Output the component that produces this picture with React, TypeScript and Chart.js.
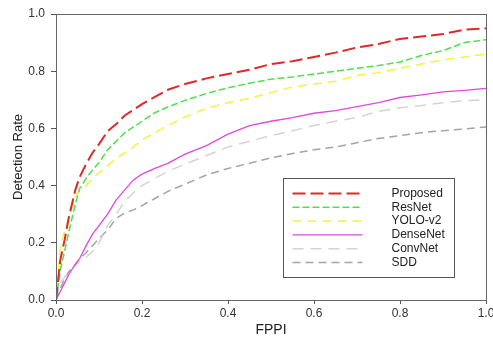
import React, { useEffect, useRef } from "react";
import { Chart, registerables } from "chart.js";

Chart.register(...registerables);

const fppi = [0, 0.01, 0.02, 0.03, 0.045, 0.055, 0.07, 0.085, 0.1, 0.12, 0.14, 0.16, 0.18, 0.2, 0.23, 0.26, 0.3, 0.35, 0.4, 0.45, 0.5, 0.55, 0.6, 0.65, 0.7, 0.75, 0.8, 0.85, 0.9, 0.95, 1.0];

const proposed = [0, 0.14, 0.21, 0.29, 0.385, 0.43, 0.475, 0.515, 0.545, 0.59, 0.615, 0.645, 0.665, 0.685, 0.71, 0.735, 0.755, 0.775, 0.79, 0.805, 0.825, 0.835, 0.85, 0.865, 0.883, 0.895, 0.913, 0.921, 0.93, 0.945, 0.95];
const resnet = [0, 0.105, 0.17, 0.24, 0.335, 0.39, 0.425, 0.455, 0.48, 0.525, 0.555, 0.585, 0.605, 0.625, 0.655, 0.675, 0.698, 0.722, 0.742, 0.758, 0.772, 0.78, 0.79, 0.8, 0.81, 0.82, 0.832, 0.855, 0.872, 0.9, 0.91];
const yolov2 = [0, 0.19, 0.24, 0.29, 0.36, 0.385, 0.4, 0.425, 0.445, 0.47, 0.495, 0.515, 0.535, 0.56, 0.585, 0.61, 0.64, 0.67, 0.69, 0.705, 0.725, 0.745, 0.755, 0.765, 0.785, 0.795, 0.81, 0.825, 0.84, 0.85, 0.86];
const densenet = [0, 0.03, 0.06, 0.09, 0.125, 0.145, 0.19, 0.23, 0.26, 0.3, 0.35, 0.385, 0.42, 0.44, 0.46, 0.478, 0.51, 0.54, 0.58, 0.61, 0.625, 0.638, 0.653, 0.662, 0.676, 0.69, 0.708, 0.717, 0.728, 0.733, 0.74];
const convnet = [0, 0.06, 0.08, 0.1, 0.12, 0.135, 0.15, 0.17, 0.2, 0.26, 0.3, 0.345, 0.375, 0.4, 0.425, 0.45, 0.475, 0.505, 0.535, 0.555, 0.575, 0.592, 0.61, 0.625, 0.638, 0.66, 0.672, 0.68, 0.69, 0.697, 0.7];
const sdd = [0, 0.04, 0.075, 0.1, 0.125, 0.145, 0.165, 0.19, 0.215, 0.245, 0.285, 0.305, 0.315, 0.33, 0.355, 0.38, 0.405, 0.437, 0.46, 0.478, 0.497, 0.512, 0.525, 0.535, 0.55, 0.565, 0.575, 0.585, 0.592, 0.598, 0.605];

const seriesNames = ["Proposed", "ResNet", "YOLO-v2", "DenseNet", "ConvNet", "SDD"];
const seriesValues = [proposed, resnet, yolov2, densenet, convnet, sdd];
const seriesColors = ["#e02828", "#4ee04e", "#f4f43c", "#e048e0", "#d4d4d4", "#a4a4a4"];
const seriesDash: number[][] = [[13, 5], [7, 3], [9, 6], [], [11, 7], [8, 5]];
const seriesWidth = [2, 1.5, 1.5, 1.3, 1.5, 1.5];

const xTicks = [0, 0.2, 0.4, 0.6, 0.8, 1.0];
const yTicks = [0, 0.2, 0.4, 0.6, 0.8, 1.0];

const FONT = "'Liberation Sans', Arial, sans-serif";

const framePlugin = {
  id: "frame",
  afterDraw(chart: any) {
    const { ctx, chartArea } = chart;
    ctx.save();
    ctx.strokeStyle = "#666";
    ctx.lineWidth = 1;
    ctx.strokeRect(Math.round(chartArea.left) + 0.5, Math.round(chartArea.top) + 0.5, Math.round(chartArea.right - chartArea.left), Math.round(chartArea.bottom - chartArea.top));
    // legend box
    const bx = Math.round(chartArea.right - 203) + 0.5;
    const by = Math.round(chartArea.bottom - 122) + 0.5;
    const bw = 171;
    const bh = 99;
    ctx.fillStyle = "#fff";
    ctx.fillRect(bx, by, bw, bh);
    ctx.strokeStyle = "#555";
    ctx.strokeRect(bx, by, bw, bh);
    ctx.font = `12px ${FONT}`;
    ctx.textBaseline = "middle";
    ctx.textAlign = "left";
    chart.data.datasets.forEach((ds: any, i: number) => {
      const y = by + 15 + i * 13.8;
      ctx.save();
      ctx.strokeStyle = ds.borderColor;
      ctx.lineWidth = ds.borderWidth;
      ctx.setLineDash(ds.borderDash || []);
      ctx.beginPath();
      ctx.moveTo(bx + 9, y);
      ctx.lineTo(bx + 79, y);
      ctx.stroke();
      ctx.restore();
      ctx.fillStyle = "#222";
      ctx.fillText(ds.label, bx + 108, y);
    });
    ctx.restore();
  },
};

export default function App() {
  const ref = useRef<HTMLCanvasElement>(null);
  useEffect(() => {
    if (!ref.current) return;
    const chart = new Chart(ref.current, {
      type: "line",
      data: {
        datasets: seriesNames.map((name, i) => ({
          label: name,
          data: fppi.map((x, j) => ({ x, y: seriesValues[i][j] })),
          borderColor: seriesColors[i],
          borderWidth: seriesWidth[i],
          borderDash: seriesDash[i],
          pointRadius: 0,
          fill: false,
          tension: 0,
        })),
      },
      options: {
        responsive: false,
        animation: false,
        layout: { padding: { left: 7, top: 14, right: 7, bottom: 0 } },
        plugins: { legend: { display: false }, tooltip: { enabled: false } },
        scales: {
          x: {
            type: "linear",
            min: 0,
            max: 1,
            afterFit: (s: any) => { s.height = 43; s.paddingRight = 0; s.paddingLeft = 0; },
            afterBuildTicks: (s: any) => { s.ticks = xTicks.map((v) => ({ value: v })); },
            border: { color: "#555", width: 1 },
            grid: { display: true, drawOnChartArea: false, drawTicks: true, tickLength: 4, color: "#555" },
            ticks: { color: "#333", font: { family: FONT, size: 12 }, padding: 2, callback: (v: any) => Number(v).toFixed(1) },
            title: { display: true, text: "FPPI", color: "#222", font: { family: FONT, size: 14 } },
          },
          y: {
            type: "linear",
            min: 0,
            max: 1,
            afterFit: (s: any) => { s.width = 49; s.paddingTop = 0; s.paddingBottom = 0; },
            afterBuildTicks: (s: any) => { s.ticks = yTicks.map((v) => ({ value: v })); },
            border: { color: "#555", width: 1 },
            grid: { display: true, drawOnChartArea: false, drawTicks: true, tickLength: 5, color: "#555" },
            ticks: { color: "#333", font: { family: FONT, size: 12 }, padding: 6, callback: (v: any) => Number(v).toFixed(1) },
            title: { display: true, text: "Detection Rate", color: "#222", font: { family: FONT, size: 13 } },
          },
        },
      },
      plugins: [framePlugin],
    });
    return () => chart.destroy();
  }, []);
  return (
    <div style={{ position: "absolute", left: 0, top: 0, width: 493, height: 343, background: "#fff" }}>
      <canvas ref={ref} width={493} height={343} />
    </div>
  );
}
